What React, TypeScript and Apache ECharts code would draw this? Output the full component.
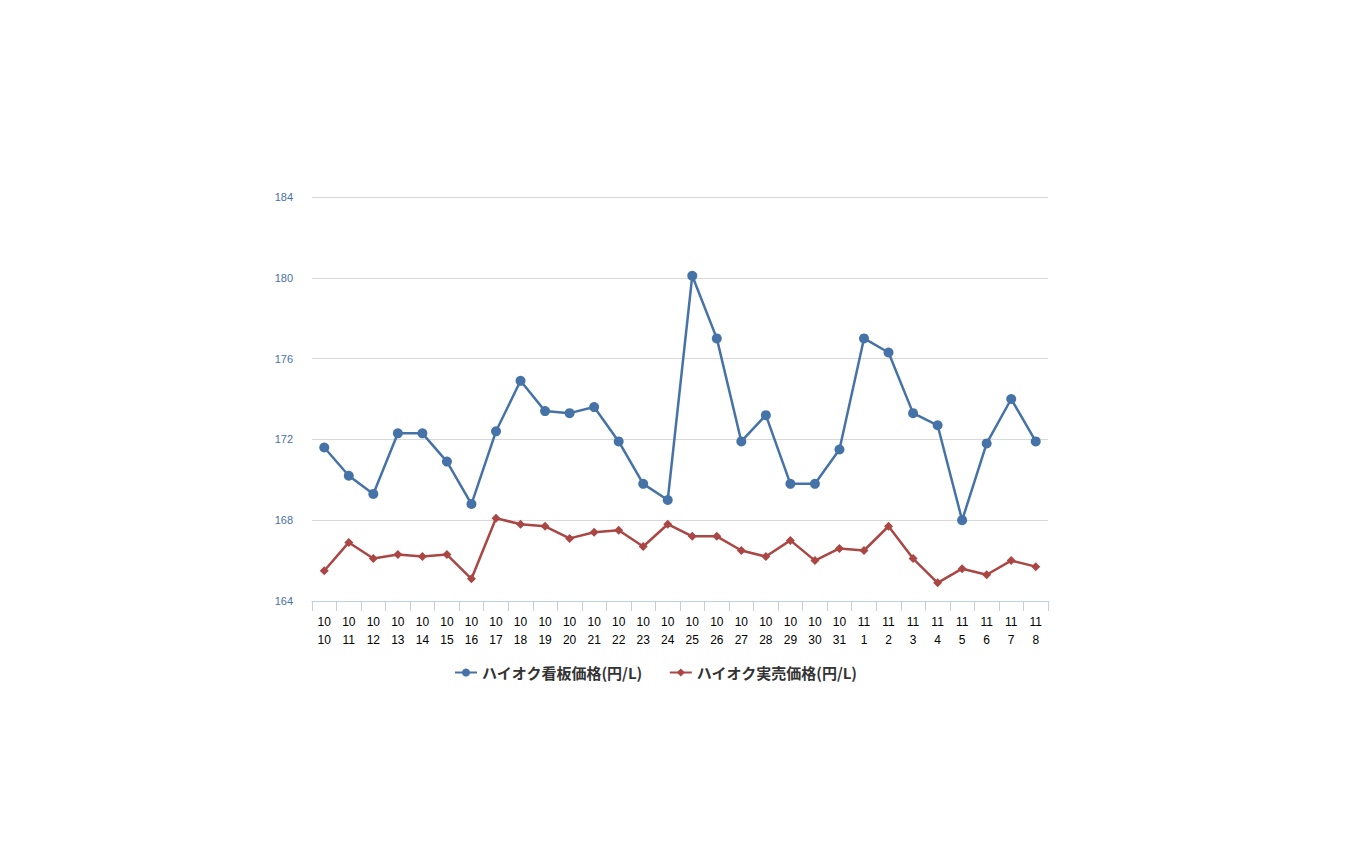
import React, { useEffect, useRef } from "react";
import * as echarts from "echarts";

const categories = [
  "10\n10", "10\n11", "10\n12", "10\n13", "10\n14", "10\n15", "10\n16", "10\n17", "10\n18", "10\n19",
  "10\n20", "10\n21", "10\n22", "10\n23", "10\n24", "10\n25", "10\n26", "10\n27", "10\n28", "10\n29",
  "10\n30", "10\n31", "11\n1", "11\n2", "11\n3", "11\n4", "11\n5", "11\n6", "11\n7", "11\n8",
];

const signPrice = [
  171.6, 170.2, 169.3, 172.3, 172.3, 170.9, 168.8, 172.4, 174.9, 173.4,
  173.3, 173.6, 171.9, 169.8, 169.0, 180.1, 177.0, 171.9, 173.2, 169.8,
  169.8, 171.5, 177.0, 176.3, 173.3, 172.7, 168.0, 171.8, 174.0, 171.9,
];

const actualPrice = [
  165.5, 166.9, 166.1, 166.3, 166.2, 166.3, 165.1, 168.1, 167.8, 167.7,
  167.1, 167.4, 167.5, 166.7, 167.8, 167.2, 167.2, 166.5, 166.2, 167.0,
  166.0, 166.6, 166.5, 167.7, 166.1, 164.9, 165.6, 165.3, 166.0, 165.7,
];

const seriesNames = ["ハイオク看板価格(円/L)", "ハイオク実売価格(円/L)"];

export default function App() {
  const ref = useRef<HTMLDivElement>(null);
  useEffect(() => {
    if (!ref.current) return;
    const chart = echarts.init(ref.current, undefined, { renderer: "svg" });
    chart.setOption({
      animation: false,
      backgroundColor: "#ffffff",
      textStyle: { fontFamily: "'Noto Sans CJK JP', 'DejaVu Sans', sans-serif" },
      grid: { left: 312, right: 302, top: 197, bottom: 243, containLabel: false },
      legend: {
        left: 449,
        top: 660,
        itemGap: 26,
        itemWidth: 22,
        itemHeight: 10,
        textStyle: { color: "#333333", fontSize: 15, fontWeight: "bold", fontFamily: "'Noto Sans CJK JP', sans-serif" },
        data: seriesNames,
      },
      xAxis: {
        type: "category",
        data: categories,
        boundaryGap: true,
        axisLine: { show: true, lineStyle: { color: "#c0d0e0", width: 1 } },
        axisTick: { show: true, length: 10, lineStyle: { color: "#c0d0e0" } },
        axisLabel: {
          interval: 0,
          color: "#000000",
          fontSize: 12,
          lineHeight: 18,
          margin: 12,
          fontFamily: "'Liberation Sans', Arial, sans-serif",
        },
        splitLine: { show: false },
      },
      yAxis: {
        type: "value",
        min: 164,
        max: 184,
        interval: 4,
        axisLine: { show: false },
        axisTick: { show: false },
        axisLabel: {
          color: "#4a70a8",
          fontSize: 11,
          margin: 19,
          fontFamily: "'Liberation Sans', Arial, sans-serif",
        },
        splitLine: { show: true, lineStyle: { color: "#d8d8d8", width: 1 } },
      },
      series: [
        {
          name: seriesNames[0],
          type: "line",
          data: signPrice,
          color: "#4572A7",
          symbol: "circle",
          symbolSize: 10,
          lineStyle: { width: 2.5, color: "#4572A7" },
          itemStyle: { color: "#4572A7" },
          z: 3,
        },
        {
          name: seriesNames[1],
          type: "line",
          data: actualPrice,
          color: "#AA4643",
          symbol: "diamond",
          symbolSize: 9,
          lineStyle: { width: 2.5, color: "#AA4643" },
          itemStyle: { color: "#AA4643" },
          z: 2,
        },
      ],
    });
    return () => chart.dispose();
  }, []);
  return (
    <div
      ref={ref}
      style={{ position: "fixed", left: 0, top: 0, width: 1350, height: 844, background: "#fff" }}
    />
  );
}
